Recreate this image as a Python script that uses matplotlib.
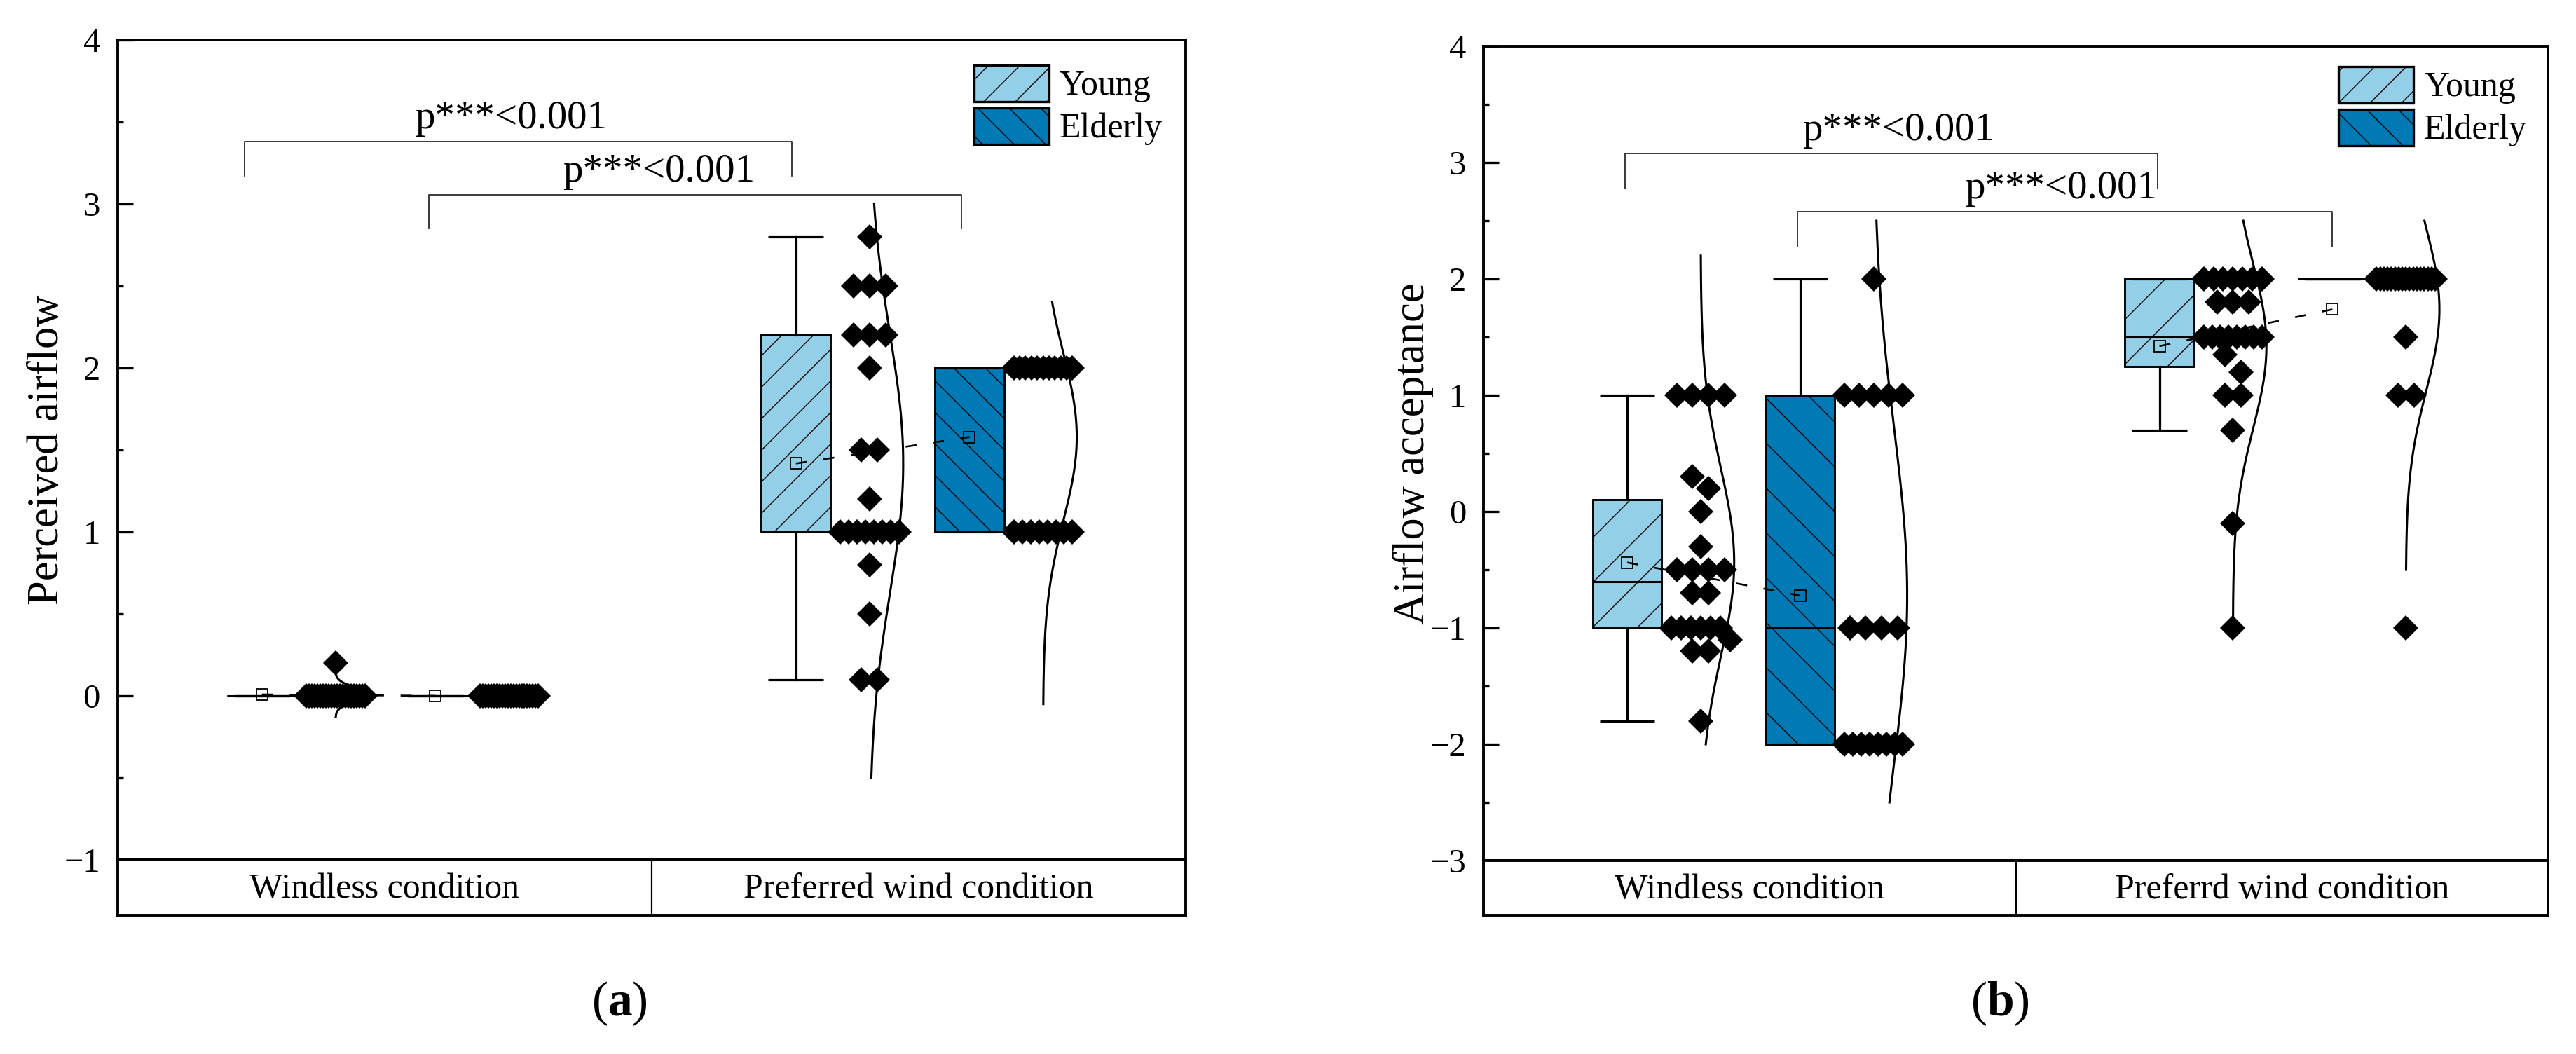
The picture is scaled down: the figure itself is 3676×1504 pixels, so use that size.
import numpy as np
import matplotlib
matplotlib.use('Agg')
import matplotlib.pyplot as plt
from matplotlib.patches import Rectangle
from matplotlib.lines import Line2D
from matplotlib.ticker import MultipleLocator

plt.rcParams['font.family'] = ['Liberation Serif', 'DejaVu Serif']
plt.rcParams['mathtext.fontset'] = 'custom'
plt.rcParams['mathtext.rm'] = 'Liberation Serif'
plt.rcParams['mathtext.bf'] = 'Liberation Serif:bold'

W, H, DPI = 3676, 1504, 100

# ------------------------------------------------------------------ data
groups = ['Young', 'Elderly']
group_colors = ['#94CFE8', '#0079B5']
group_hatch = ['/', '\\']
sig_text = 'p***<0.001'

# ---- panel (a): perceived airflow
a_conditions = ['Windless condition', 'Preferred wind condition']
a_ylabel = 'Perceived airflow'
a_yticks = [-1, 0, 1, 2, 3, 4]
a_windless_young_vals = [0.0, 0.2]
a_windless_young_cnts = [22, 1]
a_windless_elderly_vals = [0.0]
a_windless_elderly_cnts = [22]
a_preferred_young_vals = [2.8, 2.5, 2.2, 2.0, 1.5, 1.2, 1.0, 0.8, 0.5, 0.1]
a_preferred_young_cnts = [1, 3, 3, 1, 2, 1, 8, 1, 1, 2]
a_preferred_elderly_vals = [2.0, 1.0]
a_preferred_elderly_cnts = [11, 8]
# box statistics, order: windless-young, windless-elderly, preferred-young, preferred-elderly
a_q1 = [0.0, 0.0, 1.0, 1.0]
a_median = [0.0, 0.0, 1.0, 2.0]
a_q3 = [0.0, 0.0, 2.2, 2.0]
a_whisker_lo = [0.0, 0.0, 0.1, 1.0]
a_whisker_hi = [0.0, 0.0, 2.8, 2.0]
# extent of the fitted normal curves
a_curve_lo = [-0.13, np.nan, -0.5, -0.05]
a_curve_hi = [0.14, np.nan, 3.0, 2.4]
# significance brackets
a_sig_x0 = [0.238, 0.583]
a_sig_x1 = [1.263, 1.580]
a_sig_y = [3.38, 3.056]
a_sig_leg = [3.17, 2.85]
a_sig_tx = [0.736, 1.013]

# ---- panel (b): airflow acceptance
b_conditions = ['Windless condition', 'Preferrd wind condition']
b_ylabel = 'Airflow acceptance'
b_yticks = [-3, -2, -1, 0, 1, 2, 3, 4]
b_windless_young_vals = [1.0, 0.3, 0.2, 0.0, -0.3, -0.5, -0.7, -1.0, -1.1, -1.2, -1.8]
b_windless_young_cnts = [4, 1, 1, 1, 1, 4, 2, 6, 1, 2, 1]
b_windless_elderly_vals = [2.0, 1.0, -1.0, -2.0]
b_windless_elderly_cnts = [1, 5, 4, 8]
b_preferred_young_vals = [2.0, 1.8, 1.5, 1.35, 1.2, 1.0, 0.7, -0.1, -1.0]
b_preferred_young_cnts = [7, 3, 8, 1, 1, 2, 1, 1, 1]
b_preferred_elderly_vals = [2.0, 1.5, 1.0, -1.0]
b_preferred_elderly_cnts = [17, 1, 2, 1]
b_q1 = [-1.0, -2.0, 1.25, 2.0]
b_median = [-0.6, -1.0, 1.5, 2.0]
b_q3 = [0.1, 1.0, 2.0, 2.0]
b_whisker_lo = [-1.8, -2.0, 0.7, 2.0]
b_whisker_hi = [1.0, 2.0, 2.0, 2.0]
b_curve_lo = [-2.0, -2.5, -1.0, -0.5]
b_curve_hi = [2.2, 2.5, 2.5, 2.5]
b_sig_x0 = [0.266, 0.590]
b_sig_x1 = [1.266, 1.594]
b_sig_y = [3.08, 2.58]
b_sig_leg = [2.78, 2.28]
b_sig_tx = [0.78, 1.085]

# ------------------------------------------------------------------ layout / style
BOX_OFF = [0.27, 0.595]   # box centre inside each condition slot
BOX_W = 0.13
CAP_W = 0.103
PT_OFF = 0.138            # distance box centre -> scatter / curve baseline
CURVE_AMP = 0.063
ROW_STEP = 0.03
ROW_MAX = 0.11
MS_PT = 18
YLABEL_GAP_PX = 100

PANEL_A = dict(ax=(168, 57, 1692, 1227), cat_bottom=1306, hatch=45,
               legend=(1390, 93), tag=(884, 1432), tag_text='a')
PANEL_B = dict(ax=(2117, 66, 3636, 1228), cat_bottom=1306, hatch=64,
               legend=(3337, 95), tag=(2854, 1432), tag_text='b')
LEG_W, LEG_H, LEG_PITCH, LEG_HATCH = 107, 52, 61, 45


def fig_rect(x0, ytop, x1, ybot):
    return [x0 / W, 1 - ybot / H, (x1 - x0) / W, (ybot - ytop) / H]


fig = plt.figure(figsize=(W / DPI, H / DPI), dpi=DPI)
fig.patch.set_facecolor('white')


def add_hatch(patch, disp_box, direction, spacing):
    xa, ya, xb, yb = disp_box
    if xb - xa < 1 or yb - ya < 1:
        return
    inv = fig.transFigure.inverted()
    ext = 20
    if direction == '/':
        cmin, cmax = ya - xb, yb - xa
    else:
        cmin, cmax = ya + xa, yb + xb
    c = np.floor(cmin / spacing) * spacing
    while c <= cmax + spacing:
        if direction == '/':
            p = [(xa - ext, xa - ext + c), (xb + ext, xb + ext + c)]
        else:
            p = [(xa - ext, c - (xa - ext)), (xb + ext, c - (xb + ext))]
        q = inv.transform(p)
        ln = Line2D(q[:, 0], q[:, 1], transform=fig.transFigure, color='k',
                    lw=1.0, zorder=patch.get_zorder() + 0.05)
        ln.set_clip_path(patch)
        fig.add_artist(ln)
        c += spacing


def expand(vals, cnts):
    out = []
    for v, n in zip(vals, cnts):
        out.extend([v] * n)
    return np.array(out, dtype=float)


def row_layout(vals, cnts, base):
    bins = {}
    for v, n in zip(vals, cnts):
        key = np.round(v * 4) / 4
        bins.setdefault(key, []).extend([v] * n)
    xs, ys = [], []
    for key, members in bins.items():
        k = len(members)
        w = min(ROW_MAX, ROW_STEP * (k - 1))
        offs = np.linspace(-w / 2, w / 2, k) if k > 1 else np.array([0.0])
        xs.extend(base + offs)
        ys.extend(members)
    return np.array(xs), np.array(ys)


def draw_panel(P, conditions, ylabel, yticks, pts, q1, med, q3, wlo, whi,
               clo, chi, sx0, sx1, sy, sleg, stx):
    x0, ytop, x1, ybot = P['ax']
    ax = fig.add_axes(fig_rect(x0, ytop, x1, ybot))
    ymin, ymax = yticks[0], yticks[-1]
    ax.set_xlim(0, 2)
    ax.set_ylim(ymin, ymax)
    px_per_unit = (ybot - ytop) / (ymax - ymin)
    for s in ax.spines.values():
        s.set_linewidth(2.8)
    ax.set_xticks([])
    ax.set_yticks(yticks)
    ax.yaxis.set_minor_locator(MultipleLocator(0.5))
    ax.tick_params(axis='y', which='major', direction='in', length=15.5,
                   width=2.4, labelsize=35, pad=18)
    ax.tick_params(axis='y', which='minor', direction='in', length=5.5, width=2.4)
    ax.text(-YLABEL_GAP_PX / (x1 - x0), 0.5, ylabel, transform=ax.transAxes,
            rotation=90, ha='center', va='center', fontsize=45)

    means = []
    for i in range(4):
        c, g = divmod(i, 2)
        xc = c + BOX_OFF[g]
        base = xc + PT_OFF
        vals, cnts = pts[i]
        data = expand(vals, cnts)
        mu = data.mean()
        sd = data.std(ddof=1)
        means.append((xc, mu))

        # fitted distribution curve (half violin outline)
        if sd > 0 and not np.isnan(clo[i]):
            yy = np.linspace(clo[i], chi[i], 300)
            xx = base + CURVE_AMP * np.exp(-0.5 * ((yy - mu) / sd) ** 2)
            ax.plot(xx, yy, color='k', lw=2.2, zorder=2.5)

        # box
        face = Rectangle((xc - BOX_W / 2, q1[i]), BOX_W, q3[i] - q1[i],
                         facecolor=group_colors[g], edgecolor='none', zorder=2)
        ax.add_patch(face)
        d0 = ax.transData.transform((xc - BOX_W / 2, q1[i]))
        d1 = ax.transData.transform((xc + BOX_W / 2, q3[i]))
        add_hatch(face, (d0[0], d0[1], d1[0], d1[1]), group_hatch[g], P['hatch'])
        ax.add_patch(Rectangle((xc - BOX_W / 2, q1[i]), BOX_W, q3[i] - q1[i],
                               fill=False, edgecolor='k', lw=2.1, zorder=2.3))
        ax.plot([xc - BOX_W / 2, xc + BOX_W / 2], [med[i], med[i]], color='k',
                lw=2.2, zorder=2.3, solid_capstyle='butt')
        ax.plot([xc, xc], [q3[i], whi[i]], color='k', lw=2.3, zorder=2.2)
        ax.plot([xc, xc], [q1[i], wlo[i]], color='k', lw=2.3, zorder=2.2)
        for yv in (wlo[i], whi[i]):
            ax.plot([xc - CAP_W / 2, xc + CAP_W / 2], [yv, yv], color='k',
                    lw=2.3, zorder=2.2, solid_capstyle='butt')

        # individual responses
        px, py = row_layout(vals, cnts, base)
        ax.plot(px, py, linestyle='none', marker='D', ms=MS_PT, mfc='k',
                mec='k', mew=0, zorder=3)

    # mean markers and connecting dashed lines
    for c in range(2):
        (xa, ma), (xb, mb) = means[2 * c], means[2 * c + 1]
        ax.plot([xa, xb], [ma, mb], color='k', lw=1.9, ls=(0, (6, 9)), zorder=4)
    for xc, mu in means:
        ax.plot([xc], [mu], marker='s', ms=11.5, mfc='none', mec='k', mew=1.3,
                linestyle='none', zorder=5)

    # significance brackets
    for j in range(2):
        ax.plot([sx0[j], sx0[j], sx1[j], sx1[j]], [sleg[j], sy[j], sy[j], sleg[j]],
                color='#2b2b2b', lw=1.3, zorder=1.5)
        ax.text(stx[j], sy[j] + 7 / px_per_unit, sig_text, ha='center',
                va='bottom', fontsize=41)

    # category strip below the axis
    cat = fig.add_axes(fig_rect(x0, ybot, x1, P['cat_bottom']))
    cat.set_xlim(0, 2)
    cat.set_ylim(0, 1)
    cat.set_xticks([])
    cat.set_yticks([])
    for s in cat.spines.values():
        s.set_linewidth(2.8)
    cat.plot([1, 1], [0, 1], color='k', lw=1.6)
    for j, lab in enumerate(conditions):
        cat.text(j + 0.5, 0.47, lab, ha='center', va='center', fontsize=36)

    # legend (hatched boxes)
    lx, ly = P['legend']
    for g, name in enumerate(groups):
        top = ly + g * LEG_PITCH
        rect = Rectangle((lx / W, 1 - (top + LEG_H) / H), LEG_W / W, LEG_H / H,
                         transform=fig.transFigure, facecolor=group_colors[g],
                         edgecolor='none', zorder=6)
        fig.add_artist(rect)
        add_hatch(rect, (lx, H - top - LEG_H, lx + LEG_W, H - top),
                  group_hatch[g], LEG_HATCH)
        fig.add_artist(Rectangle((lx / W, 1 - (top + LEG_H) / H), LEG_W / W,
                                 LEG_H / H, transform=fig.transFigure, fill=False,
                                 edgecolor='k', lw=2.4, zorder=6.2))
        fig.text((lx + LEG_W + 15) / W, 1 - (top + LEG_H / 2 + 16) / H, name,
                 ha='left', va='baseline', fontsize=36)

    tx, ty = P['tag']
    fig.text(tx / W, 1 - ty / H, r'($\mathbf{%s}$)' % P['tag_text'],
             ha='center', va='center', fontsize=50)
    return ax


draw_panel(PANEL_A, a_conditions, a_ylabel, a_yticks,
           [(a_windless_young_vals, a_windless_young_cnts),
            (a_windless_elderly_vals, a_windless_elderly_cnts),
            (a_preferred_young_vals, a_preferred_young_cnts),
            (a_preferred_elderly_vals, a_preferred_elderly_cnts)],
           a_q1, a_median, a_q3, a_whisker_lo, a_whisker_hi,
           a_curve_lo, a_curve_hi, a_sig_x0, a_sig_x1, a_sig_y, a_sig_leg, a_sig_tx)

draw_panel(PANEL_B, b_conditions, b_ylabel, b_yticks,
           [(b_windless_young_vals, b_windless_young_cnts),
            (b_windless_elderly_vals, b_windless_elderly_cnts),
            (b_preferred_young_vals, b_preferred_young_cnts),
            (b_preferred_elderly_vals, b_preferred_elderly_cnts)],
           b_q1, b_median, b_q3, b_whisker_lo, b_whisker_hi,
           b_curve_lo, b_curve_hi, b_sig_x0, b_sig_x1, b_sig_y, b_sig_leg, b_sig_tx)

fig.savefig('out.png', dpi=DPI, facecolor='white')
